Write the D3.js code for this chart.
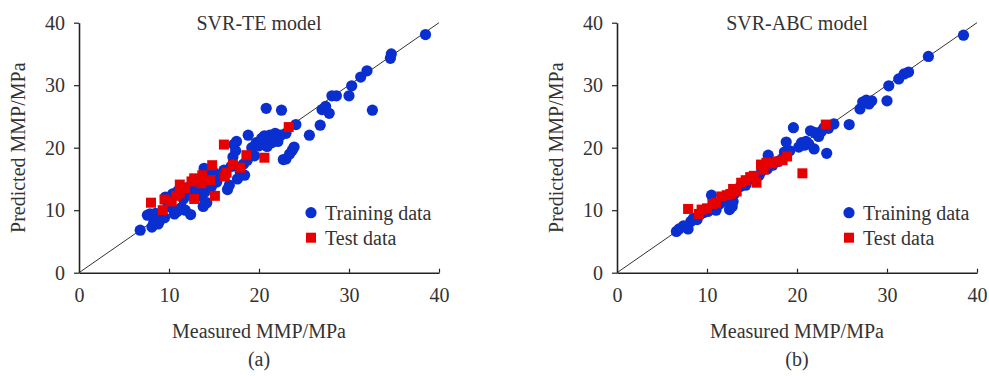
<!DOCTYPE html>
<html>
<head>
<meta charset="utf-8">
<script src="https://cdn.jsdelivr.net/npm/d3@7"></script>
<style>
  body { margin: 0; background: #fff; }
  svg text { font-family: "Liberation Serif", "DejaVu Serif", serif; fill: #333; }
</style>
</head>
<body>
<svg id="chart" width="989" height="376"></svg>
<script>
// axis ticks
const tickValues = [0, 10, 20, 30, 40];
const xTitle = 'Measured MMP/MPa';
const yTitle = 'Predicted MMP/MPa';
const seriesNames = ['Training data', 'Test data'];

// panel (a): SVR-TE  [measured, predicted]
const teTrain = [
  [6.8,6.8],[7.6,9.2],[7.9,9.4],[8.1,7.3],[8.3,8.0],[8.5,9.5],[8.8,7.8],[9.0,8.4],[9.2,9.0],[9.5,8.8],
  [9.6,12.1],[9.9,11.0],[10.1,10.5],[10.4,12.6],[10.6,9.4],[10.9,9.8],[11.0,13.1],[11.4,10.4],[11.6,11.8],[11.8,10.0],
  [12.0,13.6],[12.2,12.4],[12.4,9.3],[12.6,14.2],[12.9,13.0],[13.1,13.5],[13.3,14.6],[13.6,12.2],[13.8,10.6],[13.9,16.7],
  [14.0,12.9],[14.2,11.2],[14.4,15.4],[14.7,13.7],[15.0,16.0],[15.3,14.5],[15.6,15.5],[16.1,16.4],[16.5,13.3],[16.7,14.0],
  [16.9,17.0],[17.1,18.5],[17.2,20.5],[17.4,19.5],[17.5,21.0],[17.6,15.0],[17.9,16.2],[18.3,17.4],[18.4,15.6],[18.7,18.0],
  [18.8,22.0],[19.2,20.0],[19.5,18.7],[19.7,20.8],[20.0,20.3],[20.3,21.5],[20.6,21.9],[20.8,26.3],[20.9,20.2],[21.2,22.0],
  [21.4,20.8],[21.6,21.5],[21.8,22.3],[22.1,21.0],[22.4,22.0],[22.5,26.0],[22.7,18.1],[23.0,18.2],[23.0,22.3],[23.4,19.0],
  [23.7,19.6],[23.9,20.1],[24.1,23.7],[25.6,22.0],[26.8,23.6],[27.0,26.1],[27.4,26.6],[27.8,25.5],[28.1,28.3],[28.6,28.3],
  [30.0,28.3],[30.3,29.9],[31.3,31.3],[32.0,32.3],[32.6,26.0],[34.6,34.3],[34.7,35.0],[38.5,38.1]
];
const teTest = [
  [8.0,11.2],[9.3,10.0],[9.5,11.7],[10.3,11.4],[10.8,12.3],[11.2,12.7],[11.2,14.1],[11.8,13.5],[12.5,14.6],[12.8,15.1],
  [12.8,11.8],[13.6,14.3],[13.7,15.6],[14.6,14.8],[14.8,17.2],[15.1,12.3],[16.2,15.4],[16.4,16.0],[16.1,20.5],[17.1,17.3],
  [17.9,16.8],[18.6,18.8],[20.6,18.4],[23.3,23.3]
];

// panel (b): SVR-ABC  [measured, predicted]
const abcTrain = [
  [6.6,6.6],[6.9,7.0],[7.4,7.5],[7.9,7.0],[8.2,8.2],[8.5,8.7],[8.9,8.5],[9.2,9.3],[9.6,9.6],[10.1,9.8],
  [10.5,12.4],[10.6,10.3],[11.0,10.0],[11.4,11.0],[11.8,11.4],[12.5,10.1],[12.8,10.6],[12.9,11.4],[13.1,12.7],[13.7,13.8],
  [14.3,14.0],[14.9,15.1],[15.4,14.7],[15.8,15.6],[16.1,16.3],[16.7,16.6],[16.8,18.8],[17.3,17.2],[17.9,17.8],[18.4,18.3],
  [18.6,19.3],[18.8,20.9],[19.2,19.5],[19.6,23.2],[20.2,20.1],[20.5,20.8],[20.8,20.4],[21.0,21.0],[21.3,20.6],[21.5,22.7],
  [21.9,19.8],[22.0,22.4],[22.4,21.8],[22.7,22.6],[23.0,23.2],[23.3,19.1],[23.5,23.1],[24.1,23.8],[25.8,23.7],[27.0,26.2],
  [27.3,27.3],[27.7,27.6],[28.0,27.0],[28.3,27.5],[30.0,27.5],[30.2,29.9],[31.3,31.0],[31.9,31.8],[32.4,32.1],[34.6,34.6],
  [38.5,38.0]
];
const abcTest = [
  [7.9,10.2],[9.1,9.4],[9.4,10.1],[10.0,10.3],[10.6,11.0],[11.0,11.2],[11.6,12.2],[12.2,12.4],[12.6,12.6],[12.9,13.4],
  [13.3,13.0],[13.8,14.4],[14.3,14.8],[14.8,15.3],[15.2,15.5],[15.5,14.4],[16.0,17.3],[16.3,16.5],[16.6,17.6],[17.2,17.5],
  [17.8,17.8],[18.4,18.0],[18.9,18.6],[20.6,15.9],[23.2,23.7]
];

const blue = '#0a2fd0';
const red = '#e60000';
const fontSize = 20;
const svg = d3.select('#chart');

function drawPanel(left, title, label, train, test) {
    const width = 360, top = 22.7, height = 250;
    const g = svg.append('g').attr('transform', `translate(${left},${top})`);
    const x = d3.scaleLinear().domain([0, 40]).range([0, width]);
    const y = d3.scaleLinear().domain([0, 40]).range([height, 0]);

    // 1:1 line
    g.append('line')
        .attr('x1', x(0)).attr('y1', y(0))
        .attr('x2', x(40)).attr('y2', y(40))
        .attr('stroke', '#333').attr('stroke-width', 1);

    g.append('g')
        .selectAll('circle')
        .data(train)
        .enter().append('circle')
        .attr('cx', d => x(d[0]))
        .attr('cy', d => y(d[1]))
        .attr('r', 5.6)
        .attr('fill', blue);

    g.append('g')
        .selectAll('rect')
        .data(test)
        .enter().append('rect')
        .attr('x', d => x(d[0]) - 5)
        .attr('y', d => y(d[1]) - 5)
        .attr('width', 10)
        .attr('height', 10)
        .attr('fill', red);

    // axes
    const xAxis = g.append('g')
        .attr('transform', `translate(0,${height})`)
        .call(d3.axisBottom(x).tickValues(tickValues).tickSizeInner(-4).tickSizeOuter(0).tickPadding(15));
    const yAxis = g.append('g')
        .call(d3.axisLeft(y).tickValues(tickValues).tickSizeInner(5).tickSizeOuter(0).tickPadding(9));
    [xAxis, yAxis].forEach(a => {
        a.select('.domain').attr('stroke', '#222').attr('stroke-width', 1.6);
        a.selectAll('.tick line').attr('stroke', '#222').attr('stroke-width', 1.2);
        a.selectAll('.tick text').attr('font-size', fontSize).attr('fill', '#333')
            .style('font-family', '"Liberation Serif", serif');
    });
    xAxis.selectAll('.tick').filter(d => d === 0).select('line').remove();

    g.append('text')
        .attr('x', width / 2).attr('y', 7.5)
        .attr('text-anchor', 'middle')
        .attr('font-size', fontSize)
        .text(title);

    g.append('text')
        .attr('x', width / 2).attr('y', height + 65)
        .attr('text-anchor', 'middle')
        .attr('font-size', fontSize)
        .text(xTitle);

    g.append('text')
        .attr('x', width / 2).attr('y', height + 93)
        .attr('text-anchor', 'middle')
        .attr('font-size', fontSize)
        .text(label);

    g.append('text')
        .attr('transform', `translate(-54,${height / 2}) rotate(-90)`)
        .attr('text-anchor', 'middle')
        .attr('font-size', fontSize)
        .text(yTitle);

    // legend
    const legend = g.append('g').attr('transform', `translate(${width - 128},${190})`);
    legend.append('circle').attr('cx', 0).attr('cy', 0).attr('r', 5.6).attr('fill', blue);
    legend.append('rect').attr('x', -5).attr('y', 20).attr('width', 10).attr('height', 10).attr('fill', red);
    legend.selectAll('text')
        .data(seriesNames)
        .enter().append('text')
        .attr('x', 14)
        .attr('y', (d, i) => i * 25)
        .attr('dy', '0.35em')
        .attr('font-size', fontSize)
        .text(d => d);
}

drawPanel(79, 'SVR-TE model', '(a)', teTrain, teTest);
drawPanel(617, 'SVR-ABC model', '(b)', abcTrain, abcTest);
</script>
</body>
</html>
